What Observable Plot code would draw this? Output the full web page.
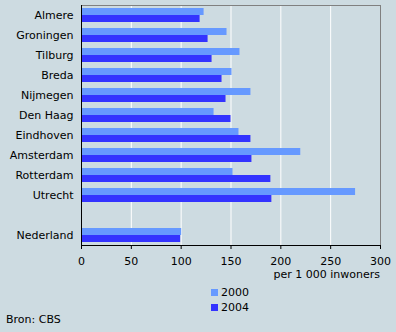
<!DOCTYPE html>
<html>
<head>
<meta charset="utf-8">
<script src="https://cdn.jsdelivr.net/npm/d3@7"></script>
<script src="https://cdn.jsdelivr.net/npm/@observablehq/plot@0.6"></script>
<style>
  html, body { margin: 0; padding: 0; background: #cddbe1; }
  body { width: 396px; height: 332px; position: relative; overflow: hidden; font-family: "DejaVu Sans", Verdana, sans-serif; font-size: 11px; color: #000; }
  .abs { position: absolute; line-height: 13px; white-space: nowrap; }
  .sw { position: absolute; width: 7px; height: 7px; }
</style>
</head>
<body>
<div id="chart"></div>
<div class="abs" id="unit" style="right:16px; top:268px;">per 1 000 inwoners</div>
<div class="sw" id="sw0" style="left:211px; top:289px;"></div>
<div class="abs" id="lg0" style="left:221px; top:285.5px;"></div>
<div class="sw" id="sw1" style="left:211px; top:304px;"></div>
<div class="abs" id="lg1" style="left:221px; top:300.5px;"></div>
<div class="abs" style="left:6px; top:313px;">Bron: CBS</div>
<script>
const categories = ["Almere", "Groningen", "Tilburg", "Breda", "Nijmegen", "Den Haag", "Eindhoven", "Amsterdam", "Rotterdam", "Utrecht", "", "Nederland"];
const series = ["2000", "2004"];
const values2000 = [123, 146, 159, 151, 170, 133, 158, 220, 152, 275, null, 100.5];
const values2004 = [119, 127, 131, 141, 145, 150, 170, 171, 190, 191, null, 99.5];
const xTicks = [0, 50, 100, 150, 200, 250, 300];
const colors = ["#6699ff", "#3333ff"];

const rows = categories.map((c, i) => ({city: c, v2000: values2000[i], v2004: values2004[i]})).filter(d => d.city !== "");

const chart = Plot.plot({
  width: 396,
  height: 270,
  marginLeft: 81,
  marginRight: 16,
  marginTop: 5,
  marginBottom: 25,
  style: {background: "transparent", fontFamily: "DejaVu Sans, Verdana, sans-serif", fontSize: "11px", color: "#000"},
  x: {domain: [0, 300], ticks: xTicks, label: null},
  y: {domain: categories, paddingInner: 0.3, paddingOuter: 0.15, label: null},
  marks: [
    Plot.ruleX(xTicks.filter(t => t > 0 && t < 300), {stroke: "#ffffff", strokeWidth: 1}),
    Plot.barX(rows, {y: "city", x: "v2000", fill: colors[0], insetBottom: 7}),
    Plot.barX(rows, {y: "city", x: "v2004", fill: colors[1], insetTop: 7}),
    Plot.frame({stroke: "#808080"}),
    Plot.frame({anchor: "bottom", stroke: "#000"}),
    Plot.ruleX([0], {stroke: "#000"}),
    Plot.axisX({ticks: xTicks, tickSize: 4, tickPadding: 8, label: null, stroke: "#000"}),
    Plot.axisY({tickSize: 0, tickPadding: 8, label: null})
  ]
});
document.getElementById("chart").appendChild(chart);
document.getElementById("sw0").style.background = colors[0];
document.getElementById("sw1").style.background = colors[1];
document.getElementById("lg0").textContent = series[0];
document.getElementById("lg1").textContent = series[1];
</script>
</body>
</html>
